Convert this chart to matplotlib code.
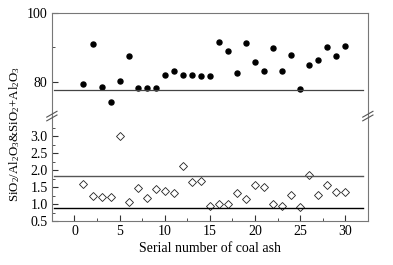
import matplotlib
matplotlib.use("Agg")
import matplotlib.pyplot as plt
from matplotlib.lines import Line2D

# --- Datos ---
serial = list(range(1, 31))
sio2_plus_al2o3 = [79.4, 90.9, 78.5, 74.0, 80.1, 87.4, 78.2, 78.2, 78.2, 81.9,
                   83.0, 81.9, 81.9, 81.6, 81.6, 91.6, 88.9, 82.4, 91.2, 85.6,
                   83.0, 89.8, 83.1, 87.9, 77.8, 84.9, 86.3, 90.0, 87.4, 90.3]
sio2_over_al2o3 = [1.60, 1.25, 1.21, 1.21, 3.00, 1.07, 1.47, 1.18, 1.44, 1.38,
                   1.32, 2.13, 1.65, 1.67, 0.93, 1.01, 1.01, 1.33, 1.14, 1.55,
                   1.51, 1.00, 0.95, 1.26, 0.90, 1.85, 1.26, 1.55, 1.36, 1.36]
upper_ref = [77.6]
lower_refs = [1.84, 0.87]

plt.rcParams['font.family'] = ['Liberation Serif', 'DejaVu Serif']
plt.rcParams['mathtext.fontset'] = 'custom'
plt.rcParams['mathtext.rm'] = 'Liberation Serif'
plt.rcParams['mathtext.it'] = 'Liberation Serif:italic'
plt.rcParams['font.size'] = 10

fig = plt.figure(figsize=(3.93, 2.65), dpi=100)
left, right = 0.132, 0.936
bottom, brk, top = 0.166, 0.562, 0.951
ax_top = fig.add_axes([left, brk, right - left, top - brk])
ax_bot = fig.add_axes([left, bottom, right - left, brk - bottom], sharex=ax_top)

frame = '#777777'
for ax in (ax_top, ax_bot):
    for s in ax.spines.values():
        s.set_color(frame)
        s.set_linewidth(0.8)
    ax.tick_params(direction='in', length=4, width=0.8, color='#333333',
                   labelsize=10, pad=3)
    ax.tick_params(which='minor', direction='in', length=2, width=0.6,
                   color='#333333')
ax_top.spines['bottom'].set_visible(False)
ax_bot.spines['top'].set_visible(False)
ax_top.tick_params(axis='x', which='both', bottom=False, labelbottom=False)

# --- Panel superior ---
ax_top.plot(serial, sio2_plus_al2o3, 'o', color='black', ms=3.6)
for v in upper_ref:
    ax_top.axhline(v, xmin=0.008, xmax=0.985, color='#444444', lw=0.9)
ax_top.set_ylim(70, 100)
ax_top.set_yticks([80, 100])
ax_top.set_yticks([90], minor=True)

# --- Panel inferior ---
ax_bot.plot(serial, sio2_over_al2o3, 'D', mfc='white', mec='#222222',
            mew=0.6, ms=3.6)
ax_bot.axhline(lower_refs[0], xmin=0.008, xmax=0.985, color='#555555', lw=1.0)
ax_bot.axhline(lower_refs[1], xmin=0.008, xmax=0.985, color='black', lw=1.0)
ax_bot.set_ylim(0.5, 3.6)
ax_bot.set_yticks([0.5, 1.0, 1.5, 2.0, 2.5, 3.0])
ax_bot.set_yticklabels(['0.5', '1.0', '1.5', '2.0', '2.5', '3.0'])
ax_bot.set_yticks([0.75, 1.25, 1.75, 2.25, 2.75, 3.25], minor=True)
ax_bot.set_xlim(-2.5, 32.5)
ax_bot.set_xticks([0, 5, 10, 15, 20, 25, 30])
ax_bot.set_xticks([2.5, 7.5, 12.5, 17.5, 22.5, 27.5], minor=True)
ax_bot.set_xlabel('Serial number of coal ash', fontsize=10, labelpad=3)

# --- Marcas de corte del eje ---
yb = brk
for xs in (left, right):
    for dy in (-0.007, 0.007):
        fig.add_artist(Line2D([xs - 0.013, xs + 0.013],
                              [yb + dy - 0.011, yb + dy + 0.011],
                              color='#555555', lw=0.8, transform=fig.transFigure))

fig.text(0.037, 0.495, r'SiO$_2$/Al$_2$O$_3$&SiO$_2$+Al$_2$O$_3$',
         rotation=90, ha='center', va='center', fontsize=9.3)

plt.savefig('out.png', dpi=100)
